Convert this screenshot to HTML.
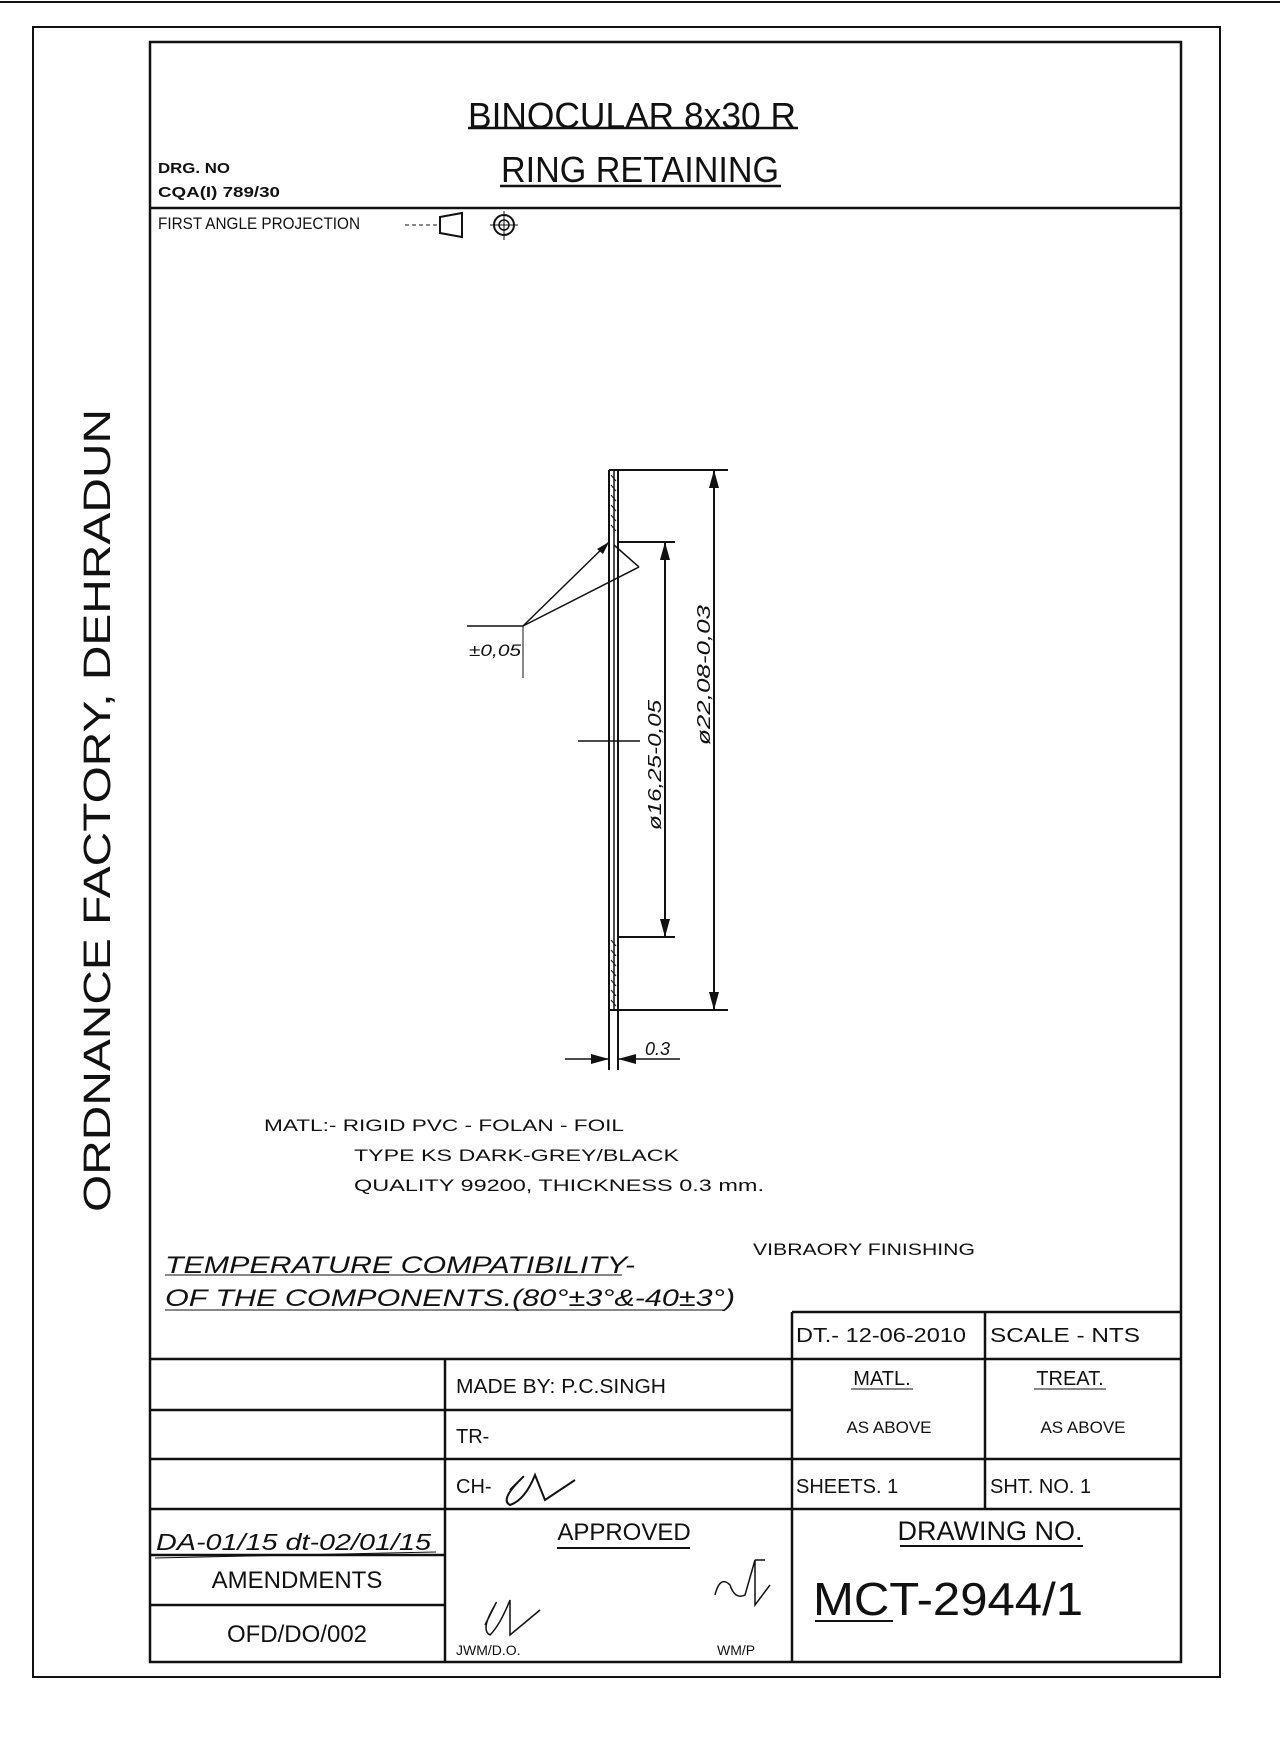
<!DOCTYPE html>
<html><head><meta charset="utf-8"><style>
html,body{margin:0;padding:0;background:#fff}
svg{display:block}
text{font-family:"Liberation Sans","DejaVu Sans",sans-serif;fill:#111}
.i{font-style:italic}
</style></head><body>
<svg width="1280" height="1744" viewBox="0 0 1280 1744" xmlns="http://www.w3.org/2000/svg">
<g stroke="#111" fill="none">
<line x1="0" y1="2" x2="1280" y2="2" stroke-width="2"/>
<rect x="33" y="27" width="1187" height="1650" stroke-width="2"/>
<rect x="150" y="42" width="1031" height="1620" stroke-width="2.5"/>
<line x1="150" y1="208" x2="1181" y2="208" stroke-width="2.5"/>
<!-- projection symbol -->
<line x1="405" y1="225" x2="440" y2="225" stroke-dasharray="4 3"/>
<path d="M440 217 L462 213 L462 237 L440 233 Z" stroke-width="2"/>
<circle cx="504" cy="225" r="10" stroke-width="2"/><circle cx="504" cy="225" r="5" stroke-width="1.5"/>
<line x1="490" y1="225" x2="518" y2="225"/><line x1="504" y1="211" x2="504" y2="240"/>
<!-- plate -->
<line x1="609" y1="470" x2="609" y2="1070" stroke-width="2"/>
<line x1="614" y1="470" x2="614" y2="1010" stroke-width="1.5"/>
<line x1="618" y1="470" x2="618" y2="1070" stroke-width="2"/>
<line x1="609" y1="470" x2="618" y2="470" stroke-width="2"/>
<line x1="609" y1="1010" x2="618" y2="1010" stroke-width="2"/>
<path d="M611 475 l5 6 M611 485 l5 6 M611 495 l5 6 M611 505 l5 6 M611 515 l5 6 M611 525 l5 6 M611 940 l5 6 M611 950 l5 6 M611 960 l5 6 M611 970 l5 6 M611 980 l5 6 M611 990 l5 6 M611 1000 l5 6"/>
<!-- 22.08 dim -->
<line x1="618" y1="470" x2="728" y2="470" stroke-width="2"/>
<line x1="618" y1="1010" x2="728" y2="1010" stroke-width="2"/>
<line x1="714" y1="470" x2="714" y2="1010" stroke-width="2"/>
<!-- 16.25 dim -->
<line x1="618" y1="542" x2="675" y2="542" stroke-width="2"/>
<line x1="618" y1="937" x2="675" y2="937" stroke-width="2"/>
<line x1="665" y1="542" x2="665" y2="937" stroke-width="2"/>
<line x1="578" y1="741" x2="640" y2="741" stroke-width="1.5"/>
<!-- leader -->
<line x1="523" y1="626" x2="609" y2="542" stroke-width="1.5"/>
<line x1="523" y1="626" x2="639" y2="567" stroke-width="1.5"/>
<line x1="639" y1="567" x2="614" y2="545" stroke-width="1.5"/>
<line x1="467" y1="626" x2="523" y2="626" stroke-width="1.5"/>
<line x1="523" y1="626" x2="523" y2="678" stroke-width="1"/>
<!-- 0.3 dim -->
<line x1="565" y1="1059" x2="609" y2="1059" stroke-width="1.5"/>
<line x1="618" y1="1059" x2="680" y2="1059" stroke-width="1.5"/>
<!-- temperature underlines -->
<line x1="165" y1="1275" x2="622" y2="1275"/>
<line x1="165" y1="1310" x2="724" y2="1310"/>
<!-- table -->
<g stroke-width="2.5">
<line x1="792" y1="1312" x2="1181" y2="1312"/>
<line x1="150" y1="1359" x2="1181" y2="1359"/>
<line x1="150" y1="1410" x2="792" y2="1410"/>
<line x1="150" y1="1459" x2="1181" y2="1459"/>
<line x1="150" y1="1509" x2="1181" y2="1509"/>
<line x1="150" y1="1555" x2="445" y2="1555"/>
<line x1="150" y1="1605" x2="445" y2="1605"/>
<line x1="445" y1="1359" x2="445" y2="1662"/>
<line x1="792" y1="1312" x2="792" y2="1662"/>
<line x1="985" y1="1312" x2="985" y2="1509"/>
</g>
<line x1="851" y1="1389" x2="913" y2="1389"/>
<line x1="1034" y1="1389" x2="1106" y2="1389"/>
<line x1="155" y1="1558" x2="436" y2="1552"/>
<line x1="557" y1="1548" x2="690" y2="1548" stroke-width="2"/>
<line x1="900" y1="1546" x2="1083" y2="1546" stroke-width="2"/>
<line x1="815" y1="1621" x2="893" y2="1621" stroke-width="2"/>
<line x1="468" y1="128" x2="798" y2="128" stroke-width="2.5"/>
<line x1="500" y1="186" x2="781" y2="186" stroke-width="2.5"/>
<!-- signatures -->
<path d="M510 1490 q20 -20 10 -10 q-20 20 -10 25 q15 -5 25 -30 l10 25 q15 -10 30 -20" stroke-width="2"/>
<path d="M485 1625 q15 -30 10 -20 q-15 25 -5 30 q10 -10 20 -35 l0 35 l30 -25" stroke-width="1.5"/>
<path d="M715 1595 q5 -20 15 -10 q5 15 15 10 l10 -35 l0 45 l15 -20 M755 1560 l10 0" stroke-width="1.5"/>
</g>
<g fill="#111">
<polygon points="714,470 709,488 719,488"/><polygon points="714,1010 709,992 719,992"/>
<polygon points="665,542 660,560 670,560"/><polygon points="665,937 660,919 670,919"/>
<polygon points="609,1059 591,1054 591,1064"/><polygon points="618,1059 636,1054 636,1064"/>
<polygon points="609,542 597,549 603,554"/>
</g>
<text x="632" y="128" font-size="36" text-anchor="middle" textLength="328" lengthAdjust="spacingAndGlyphs">BINOCULAR 8x30 R</text>
<text x="640" y="182" font-size="36" text-anchor="middle" textLength="278" lengthAdjust="spacingAndGlyphs">RING RETAINING</text>
<text x="158" y="173" font-size="15" font-weight="bold" textLength="72" lengthAdjust="spacingAndGlyphs">DRG. NO</text>
<text x="158" y="197" font-size="15" font-weight="bold" textLength="122" lengthAdjust="spacingAndGlyphs">CQA(I) 789/30</text>
<text x="158" y="229" font-size="17" textLength="202" lengthAdjust="spacingAndGlyphs">FIRST ANGLE PROJECTION</text>
<text transform="translate(110,1212) rotate(-90)" font-size="38" textLength="803" lengthAdjust="spacingAndGlyphs" style="font-weight:300">ORDNANCE FACTORY, DEHRADUN</text>
<text x="469" y="656" font-size="17" class="i" textLength="52" lengthAdjust="spacingAndGlyphs">±0,05</text>
<text transform="translate(661,830) rotate(-90)" font-size="18" class="i" textLength="130" lengthAdjust="spacingAndGlyphs">ø16,25-0,05</text>
<text transform="translate(710,745) rotate(-90)" font-size="18" class="i" textLength="140" lengthAdjust="spacingAndGlyphs">ø22,08-0,03</text>
<text x="645" y="1055" font-size="18" class="i">0.3</text>
<text x="264" y="1131" font-size="17" textLength="360" lengthAdjust="spacingAndGlyphs">MATL:- RIGID PVC - FOLAN - FOIL</text>
<text x="354" y="1161" font-size="17" textLength="325" lengthAdjust="spacingAndGlyphs">TYPE KS DARK-GREY/BLACK</text>
<text x="354" y="1191" font-size="17" textLength="410" lengthAdjust="spacingAndGlyphs">QUALITY 99200, THICKNESS 0.3 mm.</text>
<text x="753" y="1255" font-size="17" textLength="222" lengthAdjust="spacingAndGlyphs">VIBRAORY FINISHING</text>
<text x="165" y="1273" font-size="24" class="i" textLength="470" lengthAdjust="spacingAndGlyphs">TEMPERATURE COMPATIBILITY-</text>
<text x="165" y="1306" font-size="24" class="i" textLength="570" lengthAdjust="spacingAndGlyphs">OF THE COMPONENTS.(80°±3°&amp;-40±3°)</text>
<text x="796" y="1342" font-size="20" textLength="170" lengthAdjust="spacingAndGlyphs">DT.- 12-06-2010</text>
<text x="990" y="1342" font-size="20" textLength="150" lengthAdjust="spacingAndGlyphs">SCALE  -  NTS</text>
<text x="456" y="1393" font-size="20" textLength="210" lengthAdjust="spacingAndGlyphs">MADE BY: P.C.SINGH</text>
<text x="882" y="1385" font-size="20" text-anchor="middle">MATL.</text>
<text x="1070" y="1385" font-size="20" text-anchor="middle">TREAT.</text>
<text x="889" y="1433" font-size="17" text-anchor="middle">AS ABOVE</text>
<text x="1083" y="1433" font-size="17" text-anchor="middle">AS ABOVE</text>
<text x="456" y="1443" font-size="20">TR-</text>
<text x="456" y="1493" font-size="20">CH-</text>
<text x="796" y="1493" font-size="20">SHEETS. 1</text>
<text x="990" y="1493" font-size="20">SHT. NO. 1</text>
<text x="624" y="1540" font-size="24" text-anchor="middle">APPROVED</text>
<text x="990" y="1540" font-size="27" text-anchor="middle">DRAWING NO.</text>
<text x="813" y="1615" font-size="46" textLength="270" lengthAdjust="spacingAndGlyphs" style="font-weight:300">MCT-2944/1</text>
<text x="156" y="1550" font-size="23" class="i" textLength="275" lengthAdjust="spacingAndGlyphs">DA-01/15 dt-02/01/15</text>
<text x="297" y="1588" font-size="24" text-anchor="middle">AMENDMENTS</text>
<text x="297" y="1642" font-size="24" text-anchor="middle">OFD/DO/002</text>
<text x="456" y="1655" font-size="14">JWM/D.O.</text>
<text x="717" y="1655" font-size="14">WM/P</text>
</svg>
</body></html>
